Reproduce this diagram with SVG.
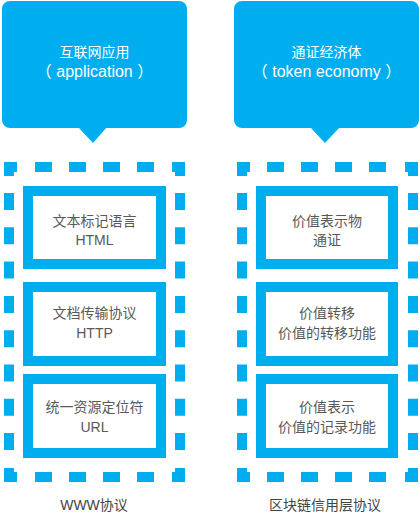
<svg xmlns="http://www.w3.org/2000/svg" width="420" height="513" viewBox="0 0 420 513">
<style>
.callout{fill:#00aeef}
.ct{fill:#ffffff;font-family:"Liberation Sans","Noto Sans CJK SC",sans-serif;text-anchor:middle}
.zh{font-size:14px}
.en{font-size:16px}
.dash{fill:none;stroke:#00aeef;stroke-width:10}
.dh{stroke-dasharray:17 17}
.dv{stroke-dasharray:17 17.3}
.corner{fill:#00aeef}
.box{fill:#ffffff;stroke:#00aeef;stroke-width:10}
.bt{fill:#595959;font-family:"Liberation Sans","Noto Sans CJK SC",sans-serif;font-size:14px;text-anchor:middle}
.lbl{fill:#444444;font-family:"Liberation Sans","Noto Sans CJK SC",sans-serif;font-size:14px;text-anchor:middle}
</style>

<g id="callout-application">
  <rect class="callout" x="2" y="1" width="185" height="127" rx="8"/>
  <polygon class="callout" points="78,127 107,127 93,143"/>
  <text class="ct zh" x="94.5" y="57">互联网应用</text>
  <text class="ct en" x="94.5" y="77">（ application ）</text>
</g>

<g id="callout-token">
  <rect class="callout" x="234" y="1" width="185" height="127" rx="8"/>
  <polygon class="callout" points="310,127 340,127 325,143"/>
  <text class="ct zh" x="326.5" y="57">通证经济体</text>
  <text class="ct en" x="326.5" y="77">（ token economy ）</text>
</g>

<g id="www-group">
  <path class="dash dh" d="M35 167 H155 M35 477 H155"/>
  <path class="dash dv" d="M9 193 V451 M180 193 V451"/>
  <polygon class="corner" points="4,162 17,162 17,172 14,172 14,176 4,176"/>
  <polygon class="corner" points="172,162 185,162 185,176 175,176 175,172 172,172"/>
  <polygon class="corner" points="4,468 14,468 14,472 17,472 17,482 4,482"/>
  <polygon class="corner" points="175,468 185,468 185,482 172,482 172,472 175,472"/>
  <text class="lbl" x="94" y="510">WWW协议</text>
</g>

<g id="html">
  <rect class="box" x="28" y="191" width="133" height="73"/>
  <text class="bt" x="94.5" y="226">文本标记语言</text>
  <text class="bt" x="94.5" y="245">HTML</text>
</g>
<g id="http">
  <rect class="box" x="28" y="287" width="133" height="74"/>
  <text class="bt" x="94.5" y="318">文档传输协议</text>
  <text class="bt" x="94.5" y="338">HTTP</text>
</g>
<g id="url">
  <rect class="box" x="28" y="379" width="133" height="74"/>
  <text class="bt" x="94.5" y="412">统一资源定位符</text>
  <text class="bt" x="94.5" y="432">URL</text>
</g>

<g id="blockchain-group">
  <path class="dash dh" d="M267 167 H387 M267 477 H387"/>
  <path class="dash dv" d="M242 193 V451 M413 193 V451"/>
  <polygon class="corner" points="237,162 250,162 250,172 247,172 247,176 237,176"/>
  <polygon class="corner" points="405,162 418,162 418,176 408,176 408,172 405,172"/>
  <polygon class="corner" points="237,468 247,468 247,472 250,472 250,482 237,482"/>
  <polygon class="corner" points="408,468 418,468 418,482 405,482 405,472 408,472"/>
  <text class="lbl" x="325" y="510">区块链信用层协议</text>
</g>

<g id="token">
  <rect class="box" x="261" y="191" width="132" height="73"/>
  <text class="bt" x="327" y="226">价值表示物</text>
  <text class="bt" x="327" y="245">通证</text>
</g>
<g id="transfer">
  <rect class="box" x="261" y="287" width="132" height="74"/>
  <text class="bt" x="327" y="318">价值转移</text>
  <text class="bt" x="327" y="338">价值的转移功能</text>
</g>
<g id="record">
  <rect class="box" x="261" y="379" width="132" height="74"/>
  <text class="bt" x="327" y="412">价值表示</text>
  <text class="bt" x="327" y="432">价值的记录功能</text>
</g>
</svg>
